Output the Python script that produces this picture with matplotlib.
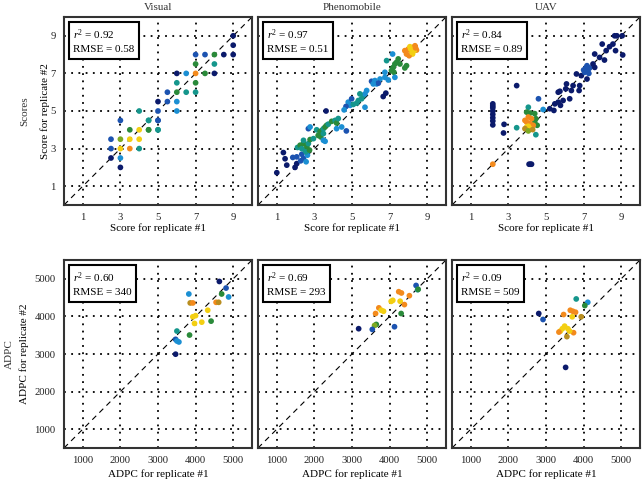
import numpy as np
import matplotlib
matplotlib.use('Agg')
import matplotlib.pyplot as plt

plt.rcParams['font.family'] = ['Liberation Serif', 'DejaVu Serif']
plt.rcParams['mathtext.fontset'] = 'custom'
plt.rcParams['mathtext.rm'] = 'Liberation Serif'
plt.rcParams['mathtext.it'] = 'Liberation Serif:italic'

# colour classes used in the reference (dark navy -> orange)
palette = ['#0b1a6b', '#1c53b0', '#1b8fd3', '#15968c', '#2a8a3a',
           '#7eaa22', '#f3cf12', '#f38a1c', '#b98e20']

methods = ['Visual', 'Phenomobile', 'UAV']
row_names = ['Scores', 'ADPC']
r2_scores = ['0.92', '0.97', '0.84']
rmse_scores = ['0.58', '0.51', '0.89']
r2_adpc = ['0.60', '0.69', '0.09']
rmse_adpc = ['340', '293', '509']

# ---- Scores, Visual (x = rep 1, y = rep 2, c = colour class)
vis_x = [9, 9, 9, 8.5, 8, 7.5, 7, 8, 8, 7.5, 7, 7, 7, 7, 6.5, 6.5, 6, 6, 6, 6, 6,
         5.5, 5.5, 5, 5, 5, 5, 4.5, 4.5, 4, 3, 4.5, 5, 3.5, 4, 4.5, 5, 3, 3.5, 4,
         2.5, 3, 3.5, 4, 2.5, 3, 3, 2.5]
vis_y = [9, 8.5, 8, 8, 8, 8, 8, 7.5, 7, 7, 7, 7.5, 6.5, 6, 7, 6, 7, 6.5, 6, 5.5, 5,
         6, 5.5, 5.5, 5, 4.5, 4, 4.5, 4, 5, 4.5, 4.5, 4.5, 4, 4, 4, 4, 3.5, 3.5, 3.5,
         3, 3, 3, 3, 2.5, 2.5, 2, 3.5]
vis_c = [0, 0, 0, 0, 4, 1, 1, 3, 0, 4, 7, 4, 4, 3, 2, 3, 0, 3, 4, 2, 2,
         1, 1, 0, 1, 1, 3, 3, 4, 3, 1, 3, 1, 4, 6, 4, 3, 5, 6, 6,
         1, 6, 7, 3, 0, 2, 0, 1]

# ---- Scores, Phenomobile
phe_x = [1.0, 1.35, 1.44, 1.53, 1.97, 2.06, 1.85, 2.06, 2.27, 2.42, 2.56, 2.63, 2.33,
         2.1, 2.24, 2.33, 2.42, 2.5, 2.6, 2.68, 2.77, 2.42, 2.56, 2.74, 2.68, 2.77,
         2.95, 3.12, 3.2, 3.3, 3.4, 3.48, 3.57, 3.65, 3.74, 3.34, 3.48, 3.62, 3.48,
         3.57, 3.92, 4.1, 4.18, 4.27, 4.18, 4.45, 4.7, 4.8, 4.9, 4.68, 4.58, 4.98,
         5.07, 5.25, 5.34, 5.51, 5.6, 5.69, 5.78, 5.42, 5.69, 6.04, 6.22, 6.31, 6.49,
         6.4, 6.75, 6.93, 6.13, 6.66, 6.8, 6.84, 7.1, 7.19, 7.28, 7.37, 7.46, 7.23,
         7.55, 6.75, 7.28, 7.81, 7.9, 7.16, 7.81, 7.9, 7.99, 8.08, 8.17, 8.26, 8.35,
         8.43, 8.22, 8.04, 8.3, 8.12, 8.38, 8.2]
phe_y = [1.72, 2.79, 2.46, 2.12, 2.0, 2.2, 2.53, 2.56, 2.35, 2.47, 2.3, 2.65, 2.7,
         3.06, 3.18, 3.0, 3.27, 2.92, 3.1, 3.27, 3.48, 3.44, 2.83, 2.92, 4.06, 4.15,
         3.53, 4.0, 3.7, 3.9, 3.97, 4.06, 4.15, 4.24, 4.3, 3.62, 3.8, 5.0, 3.44,
         3.39, 4.45, 4.5, 4.36, 4.6, 4.06, 4.15, 3.94, 5.47, 5.3, 5.24, 5.06, 5.65,
         5.35, 5.42, 5.56, 5.65, 5.82, 5.91, 6.09, 5.91, 5.2, 6.58, 6.62, 6.44, 6.7,
         6.48, 6.79, 6.65, 6.44, 5.77, 5.95, 7.68, 7.15, 7.32, 7.5, 7.59, 7.77, 7.06,
         7.5, 7.06, 6.79, 7.29, 7.41, 8.03, 8.21, 8.03, 8.29, 8.42, 8.18, 8.39, 8.47,
         8.24, 8.03, 7.94, 8.2, 8.3, 8.36, 8.1]
phe_c = [0, 0, 0, 0, 0, 0, 1, 1, 1, 1, 2, 2, 1,
         3, 4, 3, 4, 3, 4, 3, 4, 3, 3, 4, 1, 2,
         3, 3, 4, 4, 4, 3, 4, 4, 3, 4, 3, 0, 2,
         2, 4, 3, 4, 3, 2, 2, 1, 2, 2, 1, 2, 1,
         3, 3, 3, 3, 3, 2, 2, 3, 2, 1, 2, 2, 2,
         1, 2, 2, 2, 0, 0, 3, 4, 4, 4, 4, 4, 4,
         4, 2, 2, 4, 4, 2, 7, 7, 7, 6, 7, 6, 7,
         7, 6, 7, 6, 6, 7, 6]

# ---- Scores, UAV
uav_x = [2.17, 2.17, 2.17, 2.17, 2.17, 2.17, 2.17, 2.17, 2.77, 2.74, 3.44, 2.17,
         4.1, 4.17, 4.23, 4.6, 4.85, 4.06, 3.44, 4.46, 3.97, 4.15, 4.4, 4.46, 4.53,
         4.4, 4.06, 4.23, 4.15, 3.97, 4.32, 3.88, 4.06, 4.15, 3.97, 3.88, 4.06, 4.29,
         5.2, 5.47, 5.42, 5.65, 5.77, 5.91, 6.09, 6.05, 6.35, 6.44, 6.26, 5.65, 5.74,
         6.79, 6.76, 6.62, 6.88, 7.0, 7.11, 7.23, 7.32, 7.18, 7.06, 7.28, 7.5, 7.59,
         7.85, 8.11, 8.2, 8.38, 8.56, 8.7, 8.65, 8.77, 9.05, 9.08, 7.18, 7.99, 7.59]
uav_y = [5.38, 5.27, 5.17, 5.0, 4.82, 4.64, 4.47, 4.26, 4.29, 3.83, 6.35, 2.17,
         2.17, 2.17, 2.17, 5.65, 5.08, 5.2, 4.11, 3.74, 4.94, 4.89, 4.86, 4.59, 4.24,
         4.41, 4.68, 4.59, 4.33, 4.41, 4.24, 4.5, 4.19, 4.06, 4.15, 4.06, 3.94, 4.01,
         5.12, 5.38, 5.03, 5.47, 5.3, 5.56, 6.44, 6.18, 6.09, 6.35, 5.65, 6.0, 6.05,
         6.35, 6.09, 6.97, 6.88, 7.18, 7.29, 7.15, 7.29, 7.41, 7.06, 7.0, 7.5, 8.03,
         7.85, 7.71, 8.21, 8.42, 8.56, 8.21, 9.0, 9.0, 9.0, 7.98, 6.7, 8.56, 7.32]
uav_c = [0, 0, 0, 0, 0, 0, 0, 0, 0, 0, 0, 7,
         0, 0, 0, 1, 2, 3, 3, 3, 4, 4, 4, 4, 4,
         4, 7, 7, 7, 7, 7, 7, 6, 6, 6, 8, 5, 8,
         0, 0, 0, 0, 0, 0, 0, 0, 0, 0, 0, 0, 0,
         0, 0, 0, 0, 1, 1, 1, 1, 1, 1, 1, 0, 0,
         0, 0, 0, 0, 0, 0, 0, 0, 0, 0, 0, 0, 0]

# ---- ADPC, Visual
adv_x = [4632, 4810, 4878, 4693, 4545, 4614, 3820, 3857, 3926, 3926, 4000, 3971,
         4164, 4323, 4412, 3503, 3468, 3503, 3556, 3839, 3468]
adv_y = [4929, 4754, 4517, 4596, 4375, 4375, 4596, 4358, 4358, 3990, 4020, 3813,
         3847, 4164, 3874, 3610, 3390, 3346, 3320, 3504, 2995]
adv_c = [0, 1, 2, 4, 7, 8, 2, 8, 7, 6, 6, 6,
         6, 6, 4, 3, 1, 2, 2, 4, 0]

# ---- ADPC, Phenomobile
adp_x = [4704, 4746, 4760, 4526, 4243, 4315, 4280, 4042, 4085, 4394, 4307, 3714,
         3778, 3839, 3627, 3646, 3600, 3540, 4130, 3177]
adp_y = [4823, 4710, 4720, 4551, 4657, 4623, 4404, 4400, 4427, 4314, 4077, 4227,
         4164, 4137, 4077, 3786, 3760, 3654, 3725, 3673]
adp_c = [1, 3, 4, 7, 7, 7, 6, 6, 6, 7, 4, 7,
         6, 6, 7, 4, 5, 1, 1, 0]

# ---- ADPC, UAV
adu_x = [3804, 4111, 4032, 2807, 2921, 3468, 3646, 3714, 3786, 3937, 3698, 3495,
         3582, 3434, 3381, 3344, 3733, 3556, 3627, 3522]
adu_y = [4464, 4375, 4288, 4077, 3918, 4050, 4164, 4137, 4111, 3990, 3990, 3741,
         3672, 3672, 3609, 3583, 3567, 3462, 3609, 2644]
adu_c = [3, 2, 4, 0, 1, 7, 7, 7, 7, 8, 6, 6,
         6, 6, 6, 7, 7, 8, 6, 0]

score_data = [(vis_x, vis_y, vis_c), (phe_x, phe_y, phe_c), (uav_x, uav_y, uav_c)]
adpc_data = [(adv_x, adv_y, adv_c), (adp_x, adp_y, adp_c), (adu_x, adu_y, adu_c)]

fig = plt.figure(figsize=(6.42, 4.82), dpi=100)
W, H = 642, 482
lefts = [64, 258, 452]
size = 188
tops = [17, 260]


def style_axes(ax, lo, hi, ticks):
    ax.set_xlim(lo, hi)
    ax.set_ylim(lo, hi)
    ax.set_xticks(ticks)
    ax.set_yticks(ticks)
    ax.grid(True, color='black', linestyle=(0, (1, 3)), linewidth=1.3)
    ax.set_axisbelow(True)
    ax.plot([lo, hi], [lo, hi], color='black', linestyle=(0, (5, 4)),
            linewidth=0.8, zorder=1)
    ax.tick_params(length=0, labelsize=7.7, pad=6, colors='#222222')
    for sp in ax.spines.values():
        sp.set_color('#333333')
        sp.set_linewidth(1.5)


def stat_box(ax, r2, rmse):
    ax.text(0.05, 0.945, '$r^2$ = ' + r2 + '\nRMSE = ' + rmse,
            transform=ax.transAxes, fontsize=8, va='top', ha='left',
            linespacing=1.45, zorder=5,
            bbox=dict(boxstyle='square,pad=0.4', facecolor='white',
                      edgecolor='black', linewidth=1.5))


for row in range(2):
    for col in range(3):
        ax = fig.add_axes([lefts[col] / W, 1 - (tops[row] + size) / H,
                           size / W, size / H])
        if row == 0:
            xs, ys, cs = score_data[col]
            style_axes(ax, 0, 10, [1, 3, 5, 7, 9])
            stat_box(ax, r2_scores[col], rmse_scores[col])
            ax.set_title(methods[col], fontsize=8, pad=5, color='#333333')
            ax.set_xlabel('Score for replicate #1', fontsize=8, labelpad=1)
            if col == 0:
                ax.set_ylabel('Score for replicate #2', fontsize=8)
                ax.yaxis.set_label_coords((50 - 64) / size, 0.5)
        else:
            xs, ys, cs = adpc_data[col]
            style_axes(ax, 500, 5500, [1000, 2000, 3000, 4000, 5000])
            stat_box(ax, r2_adpc[col], rmse_adpc[col])
            ax.set_xlabel('ADPC for replicate #1', fontsize=8, labelpad=3)
            if col == 0:
                ax.set_ylabel('ADPC for replicate #2', fontsize=8)
                ax.yaxis.set_label_coords((29 - 64) / size, 0.5)
        if col > 0:
            ax.set_yticklabels([])
        ax.scatter(xs, ys, c=[palette[i] for i in cs], s=17, linewidths=0,
                   zorder=3)

fig.text(25 / W, 1 - 111 / H, row_names[0], rotation=90, fontsize=8,
         ha='center', va='center', color='#333333')
fig.text(9 / W, 1 - 354 / H, row_names[1], rotation=90, fontsize=8,
         ha='center', va='center', color='#333333')

fig.savefig('out.png', dpi=100)
